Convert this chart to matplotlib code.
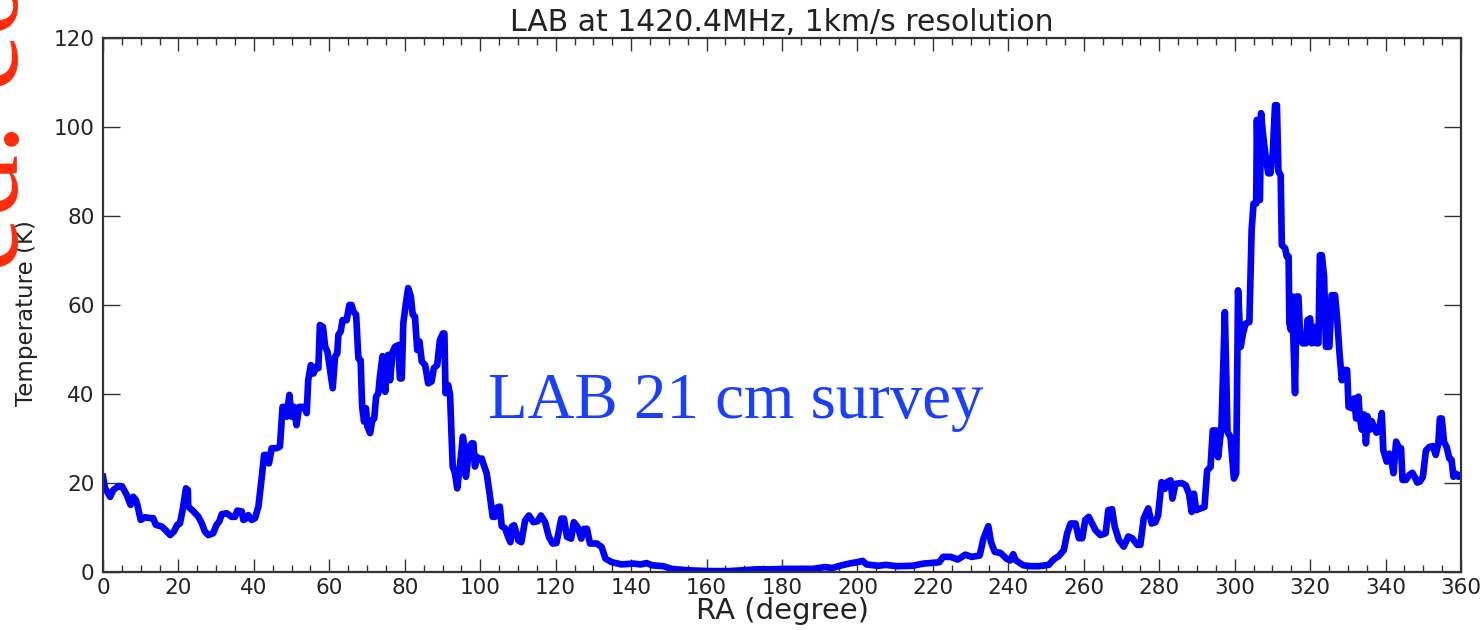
import matplotlib
matplotlib.use("Agg")
import matplotlib.pyplot as plt
from matplotlib.ticker import MultipleLocator

# LAB HI survey: brightness temperature along the RA cut
ra_deg = [
    0.0, 0.5, 1.9, 2.7, 4.1, 5.0, 6.3, 7.3, 8.0, 8.7, 9.1, 10.0, 11.1, 12.5,
    13.3, 14.0, 15.6, 16.6, 17.8, 18.8, 19.7, 20.4, 21.1, 22.0, 22.5, 22.6,
    24.0, 25.3, 26.2, 27.0, 27.9, 29.2, 30.1, 30.8, 31.5, 32.8, 34.1, 35.0,
    35.6, 36.8, 37.2, 38.1, 38.5, 39.4, 40.3, 41.2, 42.1, 42.7, 43.4, 44.0,
    44.7, 46.0, 46.9, 47.6, 48.5, 48.7, 49.4, 50.0, 50.6, 51.3, 52.0, 53.3,
    54.0, 54.4, 55.1, 55.8, 56.5, 57.1, 57.5, 58.3, 58.9, 59.5, 60.2, 60.9,
    61.5, 62.1, 62.4, 63.0, 63.5, 64.6, 65.3, 65.9, 66.4, 67.1, 67.7, 68.3,
    68.7, 69.2, 69.7, 70.1, 70.8, 71.4, 71.9, 72.4, 73.0, 73.4, 74.1, 74.8,
    75.2, 75.6, 76.1, 76.8, 77.4, 78.3, 78.7, 79.2, 79.6, 80.3, 80.9, 81.6,
    82.1, 82.7, 83.3, 83.9, 84.5, 85.4, 86.2, 87.1, 87.7, 88.6, 89.3, 90.1,
    90.5, 90.8, 91.5, 92.0, 92.7, 93.3, 93.9, 94.6, 95.4, 95.7, 96.2, 96.8,
    97.3, 97.7, 98.2, 98.6, 99.1, 99.8, 100.4, 100.8, 101.7, 102.6, 103.3,
    103.9, 104.5, 105.2, 105.7, 106.6, 107.4, 108.0, 108.4, 109.0, 110.1,
    110.9, 111.9, 112.9, 114.1, 115.2, 116.1, 117.2, 118.2, 119.2, 120.2,
    121.5, 122.2, 123.0, 124.1, 124.8, 125.8, 126.8, 127.5, 128.3, 129.1,
    130.9, 132.2, 133.2, 134.9, 137.5, 140.5, 142.5, 144.1, 145.6, 148.6,
    150.7, 154.7, 160.8, 165.9, 169.9, 173.0, 177.0, 181.1, 184.1, 188.2,
    191.3, 193.3, 195.8, 198.4, 199.9, 201.4, 202.4, 205.5, 207.5, 210.5,
    214.6, 217.6, 220.7, 221.7, 222.7, 224.7, 226.6, 228.6, 230.3, 232.4,
    233.4, 234.7, 235.4, 236.4, 237.9, 239.5, 240.5, 241.3, 242.0, 244.0,
    246.1, 248.1, 250.7, 252.0, 253.4, 254.7, 255.6, 256.5, 257.8, 258.7,
    259.6, 260.4, 261.3, 262.2, 263.1, 264.4, 265.8, 266.5, 267.5, 268.2,
    269.3, 270.6, 271.8, 272.8, 274.2, 275.0, 275.9, 277.1, 278.0, 279.0,
    279.7, 280.6, 281.5, 282.1, 283.0, 283.5, 284.3, 285.9, 287.0, 287.9,
    288.6, 289.2, 289.8, 291.0, 292.0, 292.7, 293.6, 294.2, 295.1, 295.6,
    296.5, 297.4, 298.1, 298.9, 299.8, 300.4, 300.9, 301.6, 302.2, 302.9,
    303.9, 304.5, 305.0, 305.7, 305.9, 306.3, 306.7, 307.0, 307.4, 308.1,
    308.9, 309.5, 310.1, 310.7, 311.2, 311.6, 312.2, 312.5, 313.4, 313.8,
    314.3, 314.5, 314.9, 315.3, 315.5, 316.0, 316.4, 316.9, 317.3, 318.0,
    318.9, 319.3, 320.0, 320.4, 321.0, 321.6, 322.2, 322.6, 323.1, 323.7,
    324.2, 325.1, 325.7, 326.6, 327.2, 327.8, 328.4, 329.0, 329.8, 330.2,
    331.1, 331.7, 332.2, 332.8, 333.2, 333.7, 334.3, 334.8, 335.2, 335.9,
    336.3, 336.9, 337.6, 338.3, 339.0, 339.4, 340.3, 341.0, 341.6, 342.1,
    342.8, 343.4, 344.1, 344.5, 345.4, 346.3, 347.1, 347.7, 348.4, 349.1,
    349.9, 350.7, 351.6, 352.6, 353.3, 354.0, 354.4, 354.9, 355.5, 356.2,
    356.9, 357.5, 358.0, 358.7, 359.3, 360.0,
]
temp_k = [
    21.4, 18.9, 16.9, 18.4, 19.3, 19.3, 17.3, 15.1, 16.9, 16.2, 15.1, 11.7,
    12.3, 12.1, 12.1, 10.6, 10.2, 9.4, 8.3, 9.1, 10.6, 10.9, 13.9, 18.8,
    18.4, 14.7, 13.6, 12.4, 10.9, 9.1, 8.3, 8.7, 10.6, 11.3, 13.0, 13.2,
    12.4, 12.4, 13.8, 13.6, 11.7, 12.1, 12.8, 11.7, 12.1, 14.7, 21.4, 26.3,
    26.3, 24.4, 27.8, 27.8, 28.2, 37.1, 37.1, 34.9, 39.8, 34.9, 37.1, 33.0,
    37.1, 37.1, 35.7, 43.1, 46.5, 44.6, 46.1, 45.8, 55.5, 55.1, 50.6, 49.5,
    45.4, 41.3, 48.4, 49.1, 53.3, 54.0, 56.6, 56.6, 60.0, 60.0, 58.5, 57.8,
    48.0, 47.6, 37.1, 33.8, 36.8, 32.7, 31.2, 34.2, 34.5, 39.4, 40.2, 43.9,
    48.5, 40.5, 45.4, 48.8, 43.1, 49.5, 50.6, 51.0, 43.5, 43.5, 55.9, 60.4,
    63.8, 61.9, 57.8, 57.4, 49.9, 51.8, 47.3, 46.5, 42.4, 42.8, 45.8, 46.5,
    52.1, 53.6, 53.6, 40.2, 42.0, 39.8, 23.7, 22.2, 18.8, 23.7, 30.4, 28.9,
    21.4, 25.5, 28.2, 28.9, 28.9, 23.7, 25.9, 25.2, 25.5, 24.4, 22.2, 16.9,
    12.4, 12.4, 14.5, 14.7, 10.3, 9.8, 7.9, 6.7, 10.2, 10.5, 7.1, 6.7, 11.6,
    12.7, 11.2, 11.4, 12.7, 11.2, 7.9, 6.4, 6.5, 12.0, 12.0, 7.9, 7.5, 11.2,
    10.1, 7.5, 9.7, 9.7, 6.4, 6.4, 5.6, 3.0, 2.2, 1.7, 1.9, 1.7, 2.0, 1.5,
    1.3, 0.7, 0.4, 0.2, 0.2, 0.4, 0.6, 0.6, 0.7, 0.7, 0.7, 1.1, 0.9, 1.5,
    2.0, 2.2, 2.5, 1.7, 1.4, 1.6, 1.3, 1.4, 1.9, 2.1, 2.2, 3.4, 3.4, 2.8,
    3.9, 3.4, 3.7, 7.5, 10.3, 6.7, 4.5, 4.3, 3.0, 2.6, 4.0, 2.6, 1.5, 1.3,
    1.3, 1.6, 2.8, 3.6, 4.9, 8.7, 10.9, 10.9, 7.6, 7.6, 11.7, 12.4, 10.9,
    9.4, 8.3, 8.7, 13.9, 14.1, 10.2, 7.2, 5.7, 8.0, 7.6, 6.1, 6.1, 12.1,
    14.3, 10.9, 11.2, 12.7, 20.2, 18.7, 20.2, 20.6, 16.5, 19.8, 20.0, 19.5,
    17.6, 13.5, 17.6, 13.9, 14.3, 14.6, 22.8, 23.6, 31.8, 31.8, 25.8, 32.6,
    58.4, 31.5, 30.3, 21.0, 22.1, 63.3, 50.6, 53.6, 55.8, 56.2, 76.9, 82.8,
    82.8, 101.6, 83.6, 83.6, 103.1, 99.3, 94.1, 89.6, 89.6, 94.1, 104.9,
    104.9, 90.0, 89.2, 73.5, 72.7, 70.9, 70.9, 55.9, 54.4, 61.9, 54.4, 40.2,
    61.9, 61.9, 54.0, 51.4, 51.4, 56.6, 57.0, 51.4, 55.1, 51.4, 51.4, 71.2,
    71.2, 66.4, 50.6, 50.6, 62.2, 62.2, 56.6, 49.1, 43.1, 45.4, 45.4, 37.1,
    36.8, 39.0, 34.5, 39.4, 34.5, 32.0, 35.4, 28.9, 35.0, 32.0, 33.9, 32.8,
    31.3, 32.0, 35.7, 27.4, 24.8, 26.6, 24.8, 22.2, 29.3, 28.1, 27.8, 20.7,
    20.7, 21.8, 22.3, 21.4, 20.1, 20.3, 21.4, 27.3, 28.1, 28.3, 26.3, 28.9,
    34.5, 34.5, 29.2, 28.1, 25.5, 25.2, 21.4, 22.1, 21.4, 21.8,
]

W, H = 1482, 630
fig = plt.figure(figsize=(W / 100, H / 100), dpi=100)
ax = fig.add_axes([103 / W, 1 - 572 / H, (1461 - 103) / W, (572 - 38) / H])

ax.plot(ra_deg, temp_k, color="#0000ff", lw=4.8, solid_joinstyle="round")

ax.set_xlim(0, 360)
ax.set_ylim(0, 120)
ax.xaxis.set_major_locator(MultipleLocator(20))
ax.xaxis.set_minor_locator(MultipleLocator(5))
ax.yaxis.set_major_locator(MultipleLocator(20))

txt = "#222222"
ax.tick_params(which="both", direction="in", top=True, right=True,
               colors="#333333", labelcolor=txt, labelsize=15.5, width=1.0)
ax.tick_params(axis="x", which="major", length=9.5, pad=4)
ax.tick_params(axis="x", which="minor", length=5)
ax.tick_params(axis="y", which="major", length=12, pad=6)
for s in ax.spines.values():
    s.set_color("#333333")
    s.set_linewidth(1.6)

ax.set_title("LAB at 1420.4MHz, 1km/s resolution", fontsize=21.5,
             color=txt, pad=5)
ax.set_xlabel("RA (degree)", fontsize=21, color=txt)
ax.xaxis.set_label_coords(0.5, -0.047)
ax.set_ylabel("Temperature (K)", fontsize=16.5, color=txt)
ax.yaxis.set_label_coords(-0.048, 0.485)

fig.text(488 / W, 1 - 418 / H, "LAB 21 cm survey", fontsize=46.7,
         family="Liberation Serif", color="#1a40ff", va="baseline")

# site watermark running up the left edge
fig.text(18 / W, 1 - 272 / H, "ed. com", fontsize=90, rotation=90,
         rotation_mode="anchor", ha="left", va="baseline",
         family="Liberation Serif", color="#ff2a0a")

fig.savefig("out.png", dpi=100)
